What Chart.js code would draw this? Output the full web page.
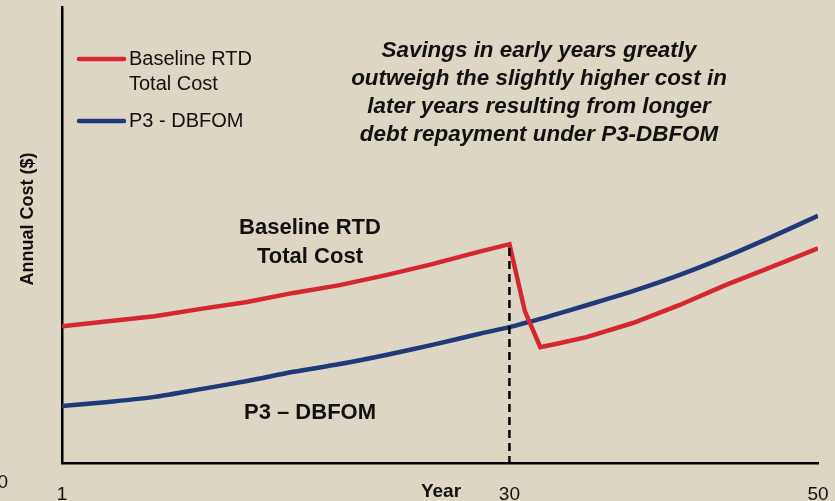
<!DOCTYPE html>
<html>
<head>
<meta charset="utf-8">
<script src="https://cdn.jsdelivr.net/npm/chart.js@4.4.1/dist/chart.umd.min.js"></script>
<style>
html,body{margin:0;padding:0;background:#ddd6c4;}
#wrap{width:835px;height:501px;position:relative;}
</style>
</head>
<body>
<div id="wrap"><canvas id="costChart"></canvas></div>
<script>
// values (arbitrary cost units, axis 0-100)
const years = [1, 4, 7, 10, 13, 16, 19, 22, 25, 28, 30, 31, 32, 33, 35, 38, 41, 44, 47, 50];
const baselineCost = [30.0, 31.1, 32.2, 33.8, 35.3, 37.3, 39.0, 41.2, 43.6, 46.3, 48.0, 33.3, 25.4, 26.1, 27.6, 30.7, 34.6, 39.0, 43.0, 47.1];
const p3Cost = [12.5, 13.4, 14.5, 16.2, 18.0, 20.0, 21.7, 23.7, 25.9, 28.3, 29.8, 30.7, 31.6, 32.6, 34.6, 37.7, 41.2, 45.2, 49.6, 54.2];
const xTicks = [1, 30, 50];
const markYear = 30;

const legendLabels = [['Baseline RTD', 'Total Cost'], ['P3 - DBFOM']];
const noteLines = ['Savings in early years greatly', 'outweigh the slightly higher cost in', 'later years resulting from longer', 'debt repayment under P3-DBFOM'];
const baselineLabel = ['Baseline RTD', 'Total Cost'];
const p3Label = 'P3 \u2013 DBFOM';

const RED = '#d6262f';
const BLUE = '#1f3a78';
const FONT = '"Liberation Sans", Arial, sans-serif';

const overlay = {
    id: 'overlay',
    afterDraw(chart) {
        const c = chart.ctx;
        const xs = chart.scales.x;
        const ys = chart.scales.y;
        c.save();

        // dashed line down from the peak
        const px = xs.getPixelForValue(markYear);
        const py = ys.getPixelForValue(baselineCost[years.indexOf(markYear)]);
        c.strokeStyle = '#000';
        c.lineWidth = 2.5;
        c.setLineDash([8, 5]);
        c.beginPath();
        c.moveTo(px, py + 4);
        c.lineTo(px, ys.bottom);
        c.stroke();
        c.setLineDash([]);

        // legend
        c.lineCap = 'round';
        c.lineWidth = 4.5;
        const legendColors = [RED, BLUE];
        const legendY = [59, 121];
        c.font = '20px ' + FONT;
        c.textAlign = 'left';
        c.textBaseline = 'middle';
        legendLabels.forEach((lines, i) => {
            c.strokeStyle = legendColors[i];
            c.beginPath();
            c.moveTo(79, legendY[i]);
            c.lineTo(124, legendY[i]);
            c.stroke();
            c.fillStyle = '#111';
            lines.forEach((t, j) => c.fillText(t, 129, legendY[i] + j * 25));
        });

        // italic note
        c.font = 'italic bold 22.4px ' + FONT;
        c.textAlign = 'center';
        noteLines.forEach((t, i) => c.fillText(t, 539, 51 + i * 28));

        // curve labels
        c.font = 'bold 22px ' + FONT;
        baselineLabel.forEach((t, i) => c.fillText(t, 310, 228 + i * 29));
        c.fillText(p3Label, 310, 413);

        // axis titles
        c.font = 'bold 19px ' + FONT;
        c.fillText('Year', 441, 492);
        c.font = '19px ' + FONT;
        c.textAlign = 'right';
        c.fillText('0', 8, 483);

        c.translate(28, 219);
        c.rotate(-Math.PI / 2);
        c.textAlign = 'center';
        c.font = 'bold 18px ' + FONT;
        c.fillText('Annual Cost ($)', 0, 0);
        c.restore();
    }
};

new Chart(document.getElementById('costChart'), {
    type: 'line',
    data: {
        labels: years,
        datasets: [{
            label: 'Baseline RTD Total Cost',
            data: years.map((y, i) => ({x: y, y: baselineCost[i]})),
            borderColor: RED,
            borderWidth: 4.5,
            pointRadius: 0,
            tension: 0
        }, {
            label: 'P3 - DBFOM',
            data: years.map((y, i) => ({x: y, y: p3Cost[i]})),
            borderColor: BLUE,
            borderWidth: 4.5,
            pointRadius: 0,
            tension: 0.3
        }]
    },
    options: {
        responsive: true,
        maintainAspectRatio: false,
        animation: false,
        layout: {padding: {top: 7, right: 17, left: 0, bottom: 0}},
        plugins: {legend: {display: false}, tooltip: {enabled: false}},
        scales: {
            x: {
                type: 'linear',
                min: 1,
                max: 50,
                afterBuildTicks: s => { s.ticks = xTicks.map(v => ({value: v})); },
                afterFit: s => { s.height = 38; s.paddingLeft = 0; s.paddingRight = 0; },
                grid: {display: false, drawTicks: false},
                border: {color: '#000', width: 2.5},
                ticks: {autoSkip: false, maxRotation: 0, padding: 20, color: '#111', font: {family: FONT, size: 19}}
            },
            y: {
                min: 0,
                max: 100,
                afterFit: s => { s.width = 62; s.paddingTop = 0; s.paddingBottom = 0; },
                grid: {display: false, drawTicks: false},
                border: {color: '#000', width: 2.5},
                ticks: {display: false}
            }
        }
    },
    plugins: [overlay]
});
</script>
</body>
</html>
